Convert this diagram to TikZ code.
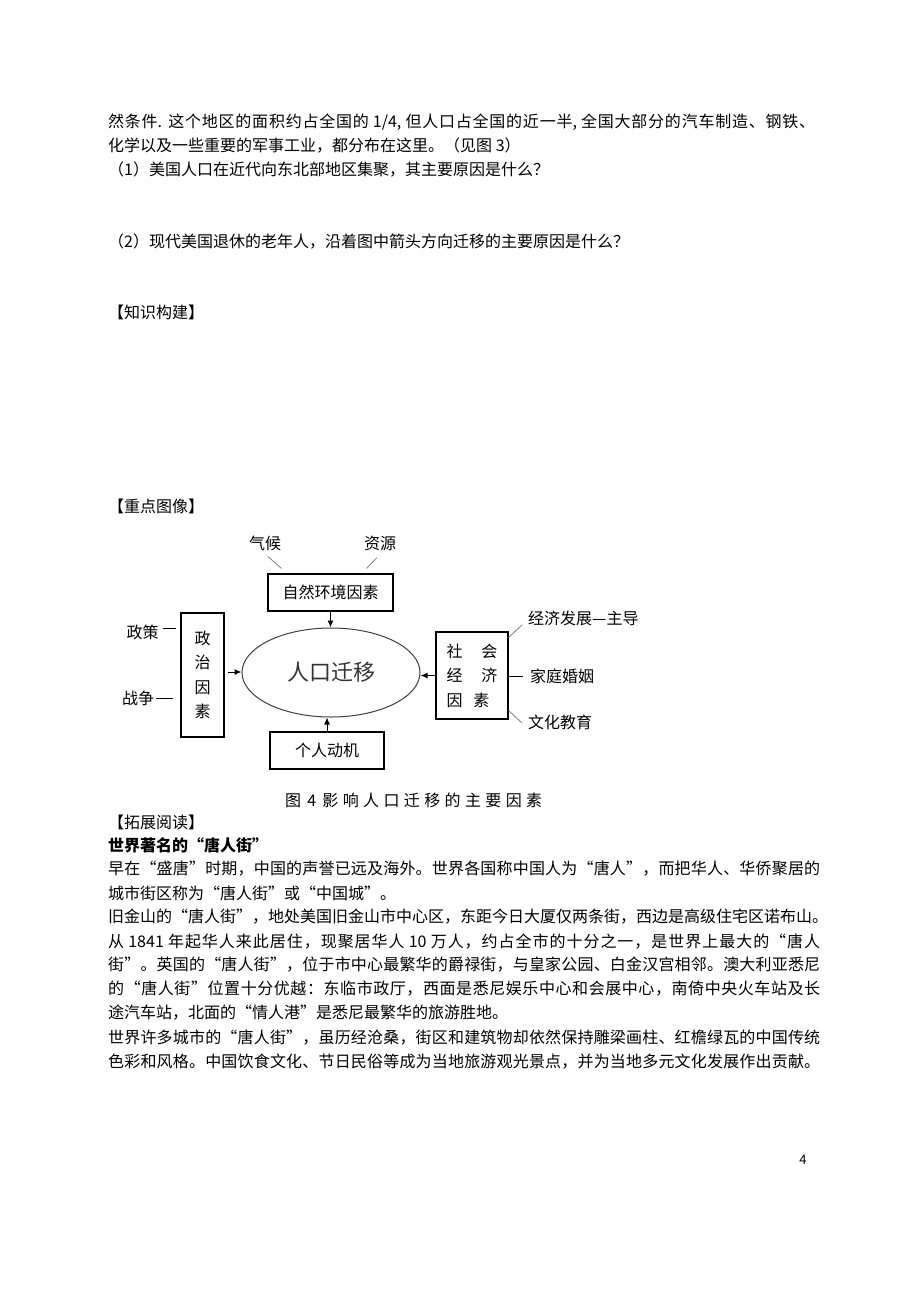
\documentclass[tikz,border=0pt]{standalone}
\usepackage{fontspec}
\setmainfont{Noto Sans CJK SC}
\usetikzlibrary{arrows.meta,shapes.geometric}

% stretchable glue between CJK characters, so full lines can be justified
\newcount\cjkcode
\cjkcode="4E00
\loop
  \XeTeXcharclass\cjkcode=1
  \advance\cjkcode by 1
\ifnum\cjkcode<"A000 \repeat
\XeTeXcharclass"3001=1 \XeTeXcharclass"3002=1 \XeTeXcharclass"FF0C=1
\XeTeXcharclass"FF1A=1 \XeTeXcharclass"FF08=1 \XeTeXcharclass"FF09=1
\XeTeXcharclass"FF1F=1 \XeTeXcharclass"201C=1 \XeTeXcharclass"201D=1
\XeTeXcharclass"3010=1 \XeTeXcharclass"3011=1
\XeTeXinterchartokenstate=1
\XeTeXinterchartoks 1 1={\hskip0pt plus 3pt\relax}

\newcommand\bodyfont{\fontsize{16}{16}\selectfont}
\newcommand\figfont{\fontsize{16}{24.5}\selectfont}

\begin{document}
\begin{tikzpicture}[x=1pt, y=-1pt,
    txt/.style={anchor=west, inner sep=0pt, font=\bodyfont},
    lbl/.style={inner sep=1pt, font=\figfont},
    factor/.style={draw, line width=1.1pt, inner sep=0pt, font=\figfont, align=center},
    tie/.style={draw=gray, line width=0.8pt},
    stub/.style={line width=0.9pt},
    push/.style={line width=1pt, -{Latex[length=7pt,width=6pt]}}]
  % page
  \path[use as bounding box, fill=white] (0,0) rectangle (920,1302);

  % text above the diagram
  \node[txt] (q0) at (108,122) {\makebox[707pt][s]{然条件. 这个地区的面积约占全国的 1/4, 但人口占全国的近一半, 全国大部分的汽车制造、钢铁、}};
  \node[txt] (q1) at (108,146) {化学以及一些重要的军事工业，都分布在这里。（见图 3）};
  \node[txt] (q2) at (108,170) {（1）美国人口在近代向东北部地区集聚，其主要原因是什么？};
  \node[txt] (q3) at (108,242) {（2）现代美国退休的老年人，沿着图中箭头方向迁移的主要原因是什么？};
  \node[txt] (h1) at (108,312) {【知识构建】};
  \node[txt] (h2) at (108,506) {【重点图像】};

  % factors
  \node[factor, minimum width=125pt, minimum height=37pt] (nat) at (330.5,592.5) {自然环境因素};
  \node[lbl] (clim) at (265,543) {气候};
  \node[lbl] (res) at (380,543) {资源};
  \node[draw=black!75, line width=1pt, ellipse, minimum width=178pt, minimum height=89pt,
    inner sep=0pt, font=\fontsize{22}{22}\selectfont, text=black!80] (mig) at (331,672.5) {人口迁移};
  \node[factor, minimum width=43pt, minimum height=124pt] (pol) at (202.5,675) {政\\治\\因\\素};
  \node[lbl] (plc) at (142.5,632) {政策};
  \node[lbl] (war) at (138,698) {战争};
  \node[factor, minimum width=72pt, minimum height=87pt, align=left] (soc) at (472,675.5)
    {社\hspace{19pt}会\\经\hspace{19pt}济\\因\hspace{11pt}素};
  \node[lbl, anchor=west] (eco) at (527,618) {经济发展—主导};
  \node[lbl, anchor=west] (fam) at (529,676) {家庭婚姻};
  \node[lbl, anchor=west] (cul) at (527,722) {文化教育};
  \node[factor, minimum width=114pt, minimum height=37pt] (indiv) at (327,750.5) {个人动机};

  % connectors
  \draw[tie] ([xshift=3pt,yshift=-5pt]clim.south) -- ([xshift=14pt,yshift=5pt]nat.north west);
  \draw[tie] ([xshift=-3pt,yshift=-6pt]res.south) -- ([xshift=-27pt,yshift=5pt]nat.north east);
  \draw[push] (nat.south) -- (nat.south |- mig.north);
  \draw[push] (indiv.north) -- (indiv.north |- mig.south);
  \draw[push] ([xshift=3pt,yshift=3pt]pol.east) -- ([yshift=3pt]pol.east -| mig.west);
  \draw[push] (soc.west) -- (soc.west -| mig.east);
  \draw[stub] ([xshift=3pt,yshift=4pt]plc.east) -- ([xshift=-4pt,yshift=4pt]plc.east -| pol.west);
  \draw[stub] ([xshift=1pt]war.east) -- ([xshift=-7pt]war.east -| pol.west);
  \draw[tie] ([yshift=-6pt]soc.north east) -- ([xshift=-5pt,yshift=-7pt]eco.west);
  \draw[stub] (soc.east |- fam.west) -- ([xshift=-6pt]fam.west);
  \draw[tie] ([yshift=9pt]soc.south east) -- ([xshift=-5pt,yshift=-1pt]cul.west);

  \node[txt] (cap) at (285,800) {\makebox[257pt][s]{图 4 影响人口迁移的主要因素}};

  % reading
  \node[txt] (h3) at (108,822) {【拓展阅读】};
  \node[txt, font=\bodyfont\bfseries] (ttl) at (108,845) {世界著名的“唐人街”};
  \foreach \n/\y/\w in {
    1/869/{早在“盛唐”时期，中国的声誉已远及海外。世界各国称中国人为“唐人”，而把华人、华侨聚居的},
    3/917/{旧金山的“唐人街”，地处美国旧金山市中心区，东距今日大厦仅两条街，西边是高级住宅区诺布山。},
    4/942/{从 1841 年起华人来此居住，现聚居华人 10 万人，约占全市的十分之一，是世界上最大的“唐人},
    5/965/{街”。英国的“唐人街”，位于市中心最繁华的爵禄街，与皇家公园、白金汉宫相邻。澳大利亚悉尼},
    6/989/{的“唐人街”位置十分优越：东临市政厅，西面是悉尼娱乐中心和会展中心，南倚中央火车站及长},
    8/1038/{世界许多城市的“唐人街”，虽历经沧桑，街区和建筑物却依然保持雕梁画柱、红檐绿瓦的中国传统},
    9/1062/{色彩和风格。中国饮食文化、节日民俗等成为当地旅游观光景点，并为当地多元文化发展作出贡献。}} {
    \node[txt] (p\n) at (108,\y) {\makebox[712pt][s]{\w}};
  }
  \node[txt] (p2) at (108,893) {城市街区称为“唐人街”或“中国城”。};
  \node[txt] (p7) at (108,1013) {途汽车站，北面的“情人港”是悉尼最繁华的旅游胜地。};

  \node[font=\fontsize{13}{13}\selectfont, inner sep=0pt] (pg) at (803,1160) {4};
\end{tikzpicture}
\end{document}
